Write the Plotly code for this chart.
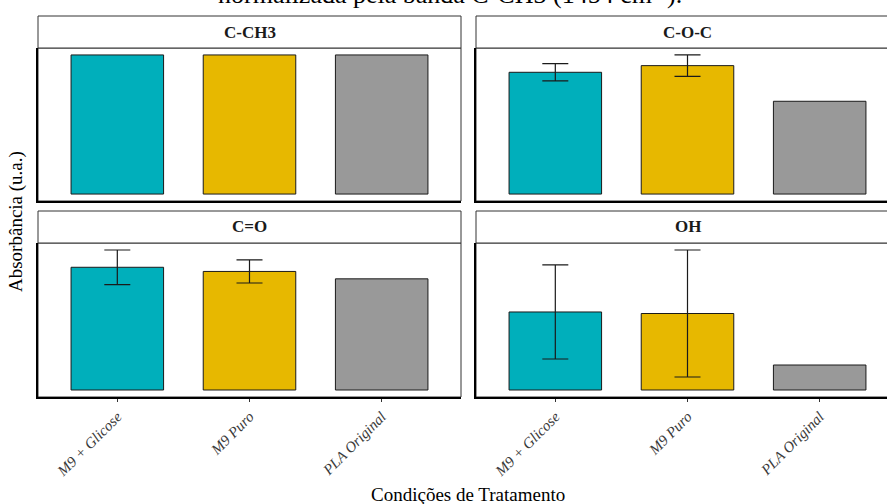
import plotly.graph_objects as go

# Normalised band absorbance (C-CH3 = 1), mean and standard deviation per treatment
conditions = ["M9 + Glicose", "M9 Puro", "PLA Original"]
bands = ["C-CH3", "C-O-C", "C=O", "OH"]
colors = ["#00AFBB", "#E7B800", "#999999"]

# None = single reference spectrum, no spread
mean_cch3 = [1.00, 1.00, 1.00]
sd_cch3 = [None, None, None]
mean_coc = [0.878, 0.926, 0.669]
sd_coc = [0.062, 0.077, None]
mean_co = [0.881, 0.851, 0.798]
sd_co = [0.124, 0.083, None]
mean_oh = [0.559, 0.548, 0.179]
sd_oh = [0.337, 0.455, None]

means = [mean_cch3, mean_coc, mean_co, mean_oh]
sds = [sd_cch3, sd_coc, sd_co, sd_oh]

W, H = 887, 504
SERIF = "Liberation Serif, Times New Roman, serif"

# panel geometry in pixels (left, right, top, bottom)
strip_h = 32
panels = [
    (38, 461, 48, 201),
    (476, 899, 48, 201),
    (38, 461, 243, 397),
    (476, 899, 243, 397),
]

fig = go.Figure()
shapes = []
annotations = []

n = len(conditions)
for i, (band, m, s) in enumerate(zip(bands, means, sds)):
    x0, x1, y0, y1 = panels[i]
    vis_x1 = min(x1, W)
    xa = "x" if i == 0 else f"x{i + 1}"
    ya = "y" if i == 0 else f"y{i + 1}"
    key = "" if i == 0 else str(i + 1)

    fig.add_trace(go.Bar(
        x=conditions, y=m,
        marker=dict(color=colors, line=dict(color="#1a1a1a", width=1)),
        xaxis=xa, yaxis=ya, showlegend=False, hoverinfo="x+y",
    ))

    # error bars only where replicates exist
    ex = [c for c, v in zip(conditions, s) if v is not None]
    ey = [a for a, v in zip(m, s) if v is not None]
    es = [v for v in s if v is not None]
    if es:
        fig.add_trace(go.Scatter(
            x=ex, y=ey, mode="markers",
            marker=dict(size=0.1, color="rgba(0,0,0,0)"),
            error_y=dict(type="data", array=es, color="#1a1a1a",
                         thickness=1.2, width=13),
            xaxis=xa, yaxis=ya, showlegend=False, hoverinfo="skip",
        ))

    # free y scale: 5 % padding around [0, max(mean + sd)]
    top = max(a + (b or 0) for a, b in zip(m, s))
    yr = [-0.05 * top, 1.05 * top]

    # discrete x scale with 0.6 category padding, clipped at the page edge
    unit = (x1 - x0) / (n - 1 + 1.2)
    xr = [-0.6, -0.6 + (vis_x1 - x0) / unit]

    bottom_row = i >= 2
    fig.layout[f"xaxis{key}"] = dict(
        domain=[x0 / W, vis_x1 / W], range=xr, anchor=ya,
        type="category", categoryorder="array", categoryarray=conditions,
        showline=True, linecolor="black", linewidth=2,
        ticks="outside" if bottom_row else "", ticklen=3, tickcolor="#333333",
        showticklabels=bottom_row, tickangle=-45,
        tickfont=dict(family=SERIF, size=15, color="#3a3a3a", style="italic"),
        showgrid=False, zeroline=False, fixedrange=True,
    )
    fig.layout[f"yaxis{key}"] = dict(
        domain=[1 - y1 / H, 1 - y0 / H], range=yr, anchor=xa,
        showline=True, linecolor="black", linewidth=2,
        showticklabels=False, ticks="", showgrid=False, zeroline=False,
        fixedrange=True,
    )

    # panel border
    shapes.append(dict(type="rect", xref="paper", yref="paper",
                       x0=x0 / W, x1=x1 / W, y0=1 - y1 / H, y1=1 - y0 / H,
                       line=dict(color="#333333", width=1), layer="below"))
    # strip
    shapes.append(dict(type="rect", xref="paper", yref="paper",
                       x0=x0 / W, x1=x1 / W,
                       y0=1 - y0 / H, y1=1 - (y0 - strip_h) / H,
                       line=dict(color="#333333", width=1), fillcolor="white"))
    annotations.append(dict(
        text=f"<b>{band}</b>", xref="paper", yref="paper",
        x=(x0 + x1) / 2 / W, y=1 - (y0 - strip_h / 2) / H,
        xanchor="center", yanchor="middle", showarrow=False,
        font=dict(family=SERIF, size=17, color="#1a1a1a"),
    ))

# title (upper line falls outside the page)
annotations.append(dict(
    text="normalizada pela banda C-CH3 (1454 cm<sup>-1</sup>).",
    xref="paper", yref="paper", x=450 / W, y=1 - 11 / H,
    xanchor="center", yanchor="bottom", showarrow=False,
    font=dict(family=SERIF, size=26, color="black"),
))
annotations.append(dict(
    text="Absorbância (u.a.)", xref="paper", yref="paper",
    x=16 / W, y=1 - 222 / H, textangle=-90,
    xanchor="center", yanchor="middle", showarrow=False,
    font=dict(family=SERIF, size=19, color="black"),
))
annotations.append(dict(
    text="Condições de Tratamento", xref="paper", yref="paper",
    x=468 / W, y=1 - 494 / H,
    xanchor="center", yanchor="middle", showarrow=False,
    font=dict(family=SERIF, size=19, color="black"),
))

fig.update_layout(
    width=W, height=H,
    margin=dict(l=0, r=0, t=0, b=0),
    paper_bgcolor="white", plot_bgcolor="white",
    bargap=0.3, barmode="overlay",
    shapes=shapes, annotations=annotations,
    showlegend=False,
)

fig.write_html("out.html")
